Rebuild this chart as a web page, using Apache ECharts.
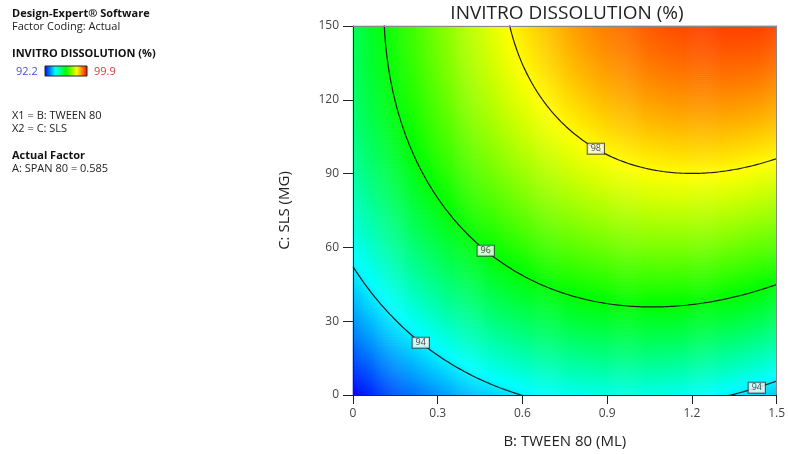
<!DOCTYPE html>
<html>
<head>
<meta charset="utf-8">
<script src="https://cdn.jsdelivr.net/npm/echarts@6/dist/echarts.min.js"></script>
<style>
  html, body { margin: 0; padding: 0; background: #fff; }
  #chart { width: 788px; height: 454px; }
</style>
</head>
<body>
<div id="chart"></div>
<script>
// Response surface: INVITRO DISSOLUTION (%) as a quadratic model in
// B (Tween 80, mL) and C (SLS, mg), with A (Span 80) held at 0.585.
const modelTerms = ['Intercept', 'B', 'C', 'BC', 'B^2', 'C^2'];
const modelCoefs = [92.243, 4.2645, 0.04054, 0.011378, -2.205, -0.0001315];
const responseRange = [92.2, 99.9];
const contourLevels = [94, 96, 98];
// [level, B] where each contour label sits on its line
const contourLabelAt = [[98, 0.86], [96, 0.47], [94, 0.24], [94, 1.43]];
const bTicks = [0, 0.3, 0.6, 0.9, 1.2, 1.5];
const cTicks = [0, 30, 60, 90, 120, 150];
const colorStops = ['#0000ff', '#00ffff', '#00ff00', '#ffff00', '#ff0000'];
const sideNotes = {
  software: 'Design-Expert® Software',
  coding: 'Factor Coding: Actual',
  response: 'INVITRO DISSOLUTION (%)',
  x1: 'X1 = B: TWEEN 80',
  x2: 'X2 = C: SLS',
  factorHead: 'Actual Factor',
  factor: 'A: SPAN 80 = 0.585'
};

function response(b, c) {
  const k = modelCoefs;
  return k[0] + k[1] * b + k[2] * c + k[3] * b * c + k[4] * b * b + k[5] * c * c;
}

// C on a contour for a given B (the lower root of the quadratic in C)
function contourC(level, b) {
  const k = modelCoefs;
  const A2 = k[5];
  const A1 = k[2] + k[3] * b;
  const A0 = k[0] + k[1] * b + k[4] * b * b - level;
  const D = A1 * A1 - 4 * A2 * A0;
  if (D < 0) return null;
  return (-A1 + Math.sqrt(D)) / (2 * A2);
}

const bMin = bTicks[0], bMax = bTicks[bTicks.length - 1];
const cMin = cTicks[0], cMax = cTicks[cTicks.length - 1];

// Shaded surface cells (one pixel wide, two pixels tall)
const NX = 429, NY = 185;
const xCats = [], yCats = [];
for (let i = 0; i < NX; i++) xCats.push(i);
for (let j = 0; j < NY; j++) yCats.push(j);
const cells = [];
for (let i = 0; i < NX; i++) {
  const b = bMin + (i + 0.5) / NX * (bMax - bMin);
  for (let j = 0; j < NY; j++) {
    const c = cMin + (j + 0.5) / NY * (cMax - cMin);
    cells.push([i, j, response(b, c)]);
  }
}

// Contour line segments
const contourSeries = [];
contourLevels.forEach(level => {
  let seg = [];
  const steps = 1500;
  for (let s = 0; s <= steps; s++) {
    const b = bMin + s / steps * (bMax - bMin);
    const c = contourC(level, b);
    if (c !== null && c > cMin - 12 && c < cMax + 12) {
      seg.push([b, c]);
    } else if (seg.length) {
      contourSeries.push(seg); seg = [];
    }
  }
  if (seg.length) contourSeries.push(seg);
});

const labelPoints = contourLabelAt.map(([level, b]) => ({ value: [b, contourC(level, b)], level }));

const chart = echarts.init(document.getElementById('chart'), null, { renderer: 'canvas' });
const font = '"Open Sans", "Noto Sans", sans-serif';
const axisDark = '#222';

const series = [{
  type: 'heatmap',
  xAxisIndex: 0,
  yAxisIndex: 0,
  data: cells,
  progressive: 0,
  silent: true,
  itemStyle: { borderWidth: 0 },
  emphasis: { disabled: true }
}];
contourSeries.forEach(seg => series.push({
  type: 'line',
  xAxisIndex: 1,
  yAxisIndex: 1,
  data: seg,
  showSymbol: false,
  symbol: 'none',
  clip: true,
  silent: true,
  z: 5,
  lineStyle: { color: '#1c1c1c', width: 1.2 }
}));
series.push({
  type: 'scatter',
  xAxisIndex: 1,
  yAxisIndex: 1,
  symbolSize: 1,
  itemStyle: { color: 'rgba(0,0,0,0)' },
  silent: true,
  z: 8,
  data: labelPoints,
  label: {
    show: true,
    position: 'inside',
    formatter: p => String(p.data.level),
    fontSize: 9,
    fontFamily: font,
    color: '#222',
    backgroundColor: '#fff',
    borderColor: '#333',
    borderWidth: 1,
    padding: [1, 3, 0, 3]
  }
});

const left = 12;
const txt = (text, top, weight, fill, x) => ({
  type: 'text', x: x === undefined ? left : x, y: top,
  style: { text, font: (weight ? 'bold ' : '') + '11px ' + font, fill, textVerticalAlign: 'middle' }
});

const option = {
  animation: false,
  textStyle: { fontFamily: font },
  grid: { left: 353, top: 26, width: 429, height: 370, show: false },
  visualMap: {
    type: 'continuous',
    show: false,
    seriesIndex: 0,
    dimension: 2,
    min: responseRange[0],
    max: responseRange[1],
    inRange: { color: colorStops }
  },
  xAxis: [
    { type: 'category', data: xCats, show: false, position: 'top', boundaryGap: true },
    {
      type: 'value', position: 'bottom', min: bMin, max: bMax, interval: bTicks[1] - bTicks[0], z: 10,
      name: 'B: TWEEN 80 (ML)', nameLocation: 'middle', nameGap: 39,
      nameTextStyle: { fontSize: 15, color: '#222', fontFamily: font },
      axisLine: { show: true, onZero: false, lineStyle: { color: axisDark, width: 1 } },
      axisTick: { show: true, length: 9, lineStyle: { color: axisDark } },
      axisLabel: { fontSize: 12, color: '#444', margin: 13, fontFamily: font },
      splitLine: { show: false }
    },
    {
      type: 'value', position: 'top', min: bMin, max: bMax, z: 10,
      axisLine: { show: true, onZero: false, lineStyle: { color: '#888', width: 1 } },
      axisTick: { show: false }, axisLabel: { show: false }, splitLine: { show: false }
    }
  ],
  yAxis: [
    { type: 'category', data: yCats, show: false, position: 'right', boundaryGap: true },
    {
      type: 'value', position: 'left', min: cMin, max: cMax, interval: cTicks[1] - cTicks[0], z: 10,
      name: 'C: SLS (MG)', nameLocation: 'middle', nameGap: 61,
      nameTextStyle: { fontSize: 15, color: '#222', fontFamily: font },
      axisLine: { show: true, onZero: false, lineStyle: { color: axisDark, width: 1 } },
      axisTick: { show: true, length: 10, lineStyle: { color: axisDark } },
      axisLabel: { fontSize: 12, color: '#444', margin: 14, fontFamily: font },
      splitLine: { show: false }
    },
    {
      type: 'value', position: 'right', min: cMin, max: cMax, z: 10,
      axisLine: { show: true, onZero: false, lineStyle: { color: '#888', width: 1 } },
      axisTick: { show: false }, axisLabel: { show: false }, splitLine: { show: false }
    }
  ],
  series: series,
  graphic: [
    { type: 'text', x: 567, y: 14, style: { text: sideNotes.response, font: '19px ' + font, fill: '#222', textAlign: 'center', textVerticalAlign: 'middle' } },
    txt(sideNotes.software, 14, true, '#111'),
    txt(sideNotes.coding, 27, false, '#222'),
    txt(sideNotes.response, 54, true, '#111'),
    txt(String(responseRange[0]), 72, false, '#4b4bd8', 16),
    {
      type: 'rect', x: 45, y: 66, shape: { width: 42, height: 10 },
      style: {
        stroke: '#222', lineWidth: 1,
        fill: new echarts.graphic.LinearGradient(0, 0, 1, 0,
          colorStops.map((c, i) => ({ offset: i / (colorStops.length - 1), color: c })))
      }
    },
    txt(String(responseRange[1]), 72, false, '#d83a3a', 94),
    txt(sideNotes.x1, 116, false, '#222'),
    txt(sideNotes.x2, 129, false, '#222'),
    txt(sideNotes.factorHead, 156, true, '#111'),
    txt(sideNotes.factor, 169, false, '#222')
  ]
};
chart.setOption(option);
</script>
</body>
</html>
